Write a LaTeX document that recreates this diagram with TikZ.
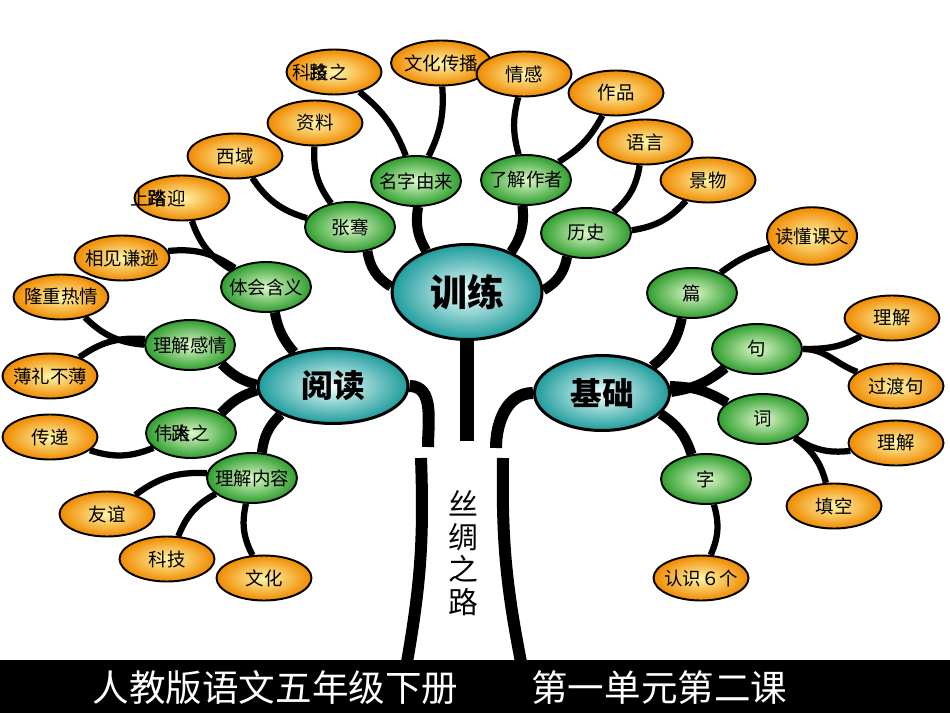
\documentclass[tikz,border=0pt]{standalone}
\usepackage{fontspec}
\setmainfont{Noto Sans CJK SC}
\usetikzlibrary{shapes.geometric,backgrounds}
\definecolor{tealin}{HTML}{F2FFFF}
\definecolor{tealout}{HTML}{1E9C9C}
\definecolor{leafin}{HTML}{DDF8C8}
\definecolor{leafout}{HTML}{2E9E2E}
\definecolor{petalin}{HTML}{FFF6A8}
\definecolor{petalout}{HTML}{F08A00}

\begin{document}
\begin{tikzpicture}[x=0.2mm, y=-0.2mm,
  hub/.style={ellipse, draw, line width=1.7pt, inner color=tealin, outer color=tealout, minimum width=30mm, minimum height=15mm, inner sep=0pt, font=\fontsize{18pt}{20pt}\selectfont\bfseries},
  leaf/.style={ellipse, draw, line width=1.1pt, inner color=leafin, outer color=leafout, minimum width=18mm, minimum height=10mm, inner xsep=-4pt, inner ysep=0pt, font=\fontsize{10.5pt}{12pt}\selectfont},
  petal/.style={ellipse, draw, line width=1.1pt, inner color=petalin, outer color=petalout, minimum width=19mm, minimum height=9mm, inner xsep=-4pt, inner ysep=0pt, font=\fontsize{10.5pt}{12pt}\selectfont},
  overlay/.style={inner sep=0pt, font=\fontsize{10.5pt}{12pt}\selectfont},
  branch/.style={line width=2mm},
  twig/.style={line width=1.25mm}
]
  \useasboundingbox (0,0) rectangle (950,713);

  % hubs
  \node[hub, minimum height=19mm, font=\fontsize{21pt}{23pt}\selectfont\bfseries] (xunlian) at (467,292) {训练};
  \node[hub] (yuedu) at (333,386) {阅读};
  \node[hub, minimum width=27mm] (jichu) at (602,393) {基础};

  % green nodes
  \node[leaf] (mingzi) at (416,181) {名字由来};
  \node[leaf] (liaojie) at (526,180) {了解作者};
  \node[leaf] (zhangqian) at (350,227) {张骞};
  \node[leaf] (lishi) at (586,233) {历史};
  \node[leaf] (tihui) at (266,287) {体会含义};
  \node[leaf] (ganqing) at (190,345) {理解感情};
  \node[leaf] (weida) at (191,433) {};
  \node[leaf] (neirong) at (252,478) {理解内容};
  \node[leaf] (pian) at (692,293) {篇};
  \node[leaf] (ju) at (757,349) {句};
  \node[leaf] (ci) at (763,419) {词};
  \node[leaf] (zi) at (706,479) {字};

  % orange nodes
  \node[petal] (keji) at (334,72) {};
  \node[petal, minimum width=20mm] (wenhua) at (441,63) {文化传播};
  \node[petal] (qinggan) at (524,74) {情感};
  \node[petal] (zuopin) at (616,93) {作品};
  \node[petal] (ziliao) at (315,123) {资料};
  \node[petal] (yuyan) at (645,142) {语言};
  \node[petal] (xiyu) at (235,156) {西域};
  \node[petal] (jingwu) at (708,180) {景物};
  \node[petal] (shanglu) at (182,198) {};
  \node[petal, minimum width=18mm, minimum height=11.5mm] (dudong) at (812,236) {读懂课文};
  \node[petal] (qianxun) at (122,258) {相见谦逊};
  \node[petal] (longzhong) at (61,297) {隆重热情};
  \node[petal] (lijie) at (892,318) {理解};
  \node[petal] (boli) at (50,376) {薄礼不薄};
  \node[petal] (guodu) at (896,386) {过渡句};
  \node[petal] (chuandi) at (50,437) {传递};
  \node[petal] (lijieb) at (896,443) {理解};
  \node[petal] (youyi) at (107,514) {友谊};
  \node[petal] (tiankong) at (834,506) {填空};
  \node[petal] (kejib) at (167,559) {科技};
  \node[petal] (wenhuab) at (264,578) {文化};
  \node[petal] (renshi) at (701,578) {认识６个};

  % overlapping texts
  \node[overlay, anchor=west] (kejit) at (292,72) {科技之};
  \node[overlay] (kejio) at (319,72) {路};
  \node[overlay, anchor=west] (shanglut) at (130,198) {上踏迎};
  \node[overlay] (shangluo) at (157,198) {路};
  \node[overlay, anchor=west] (weidat) at (154,433) {伟大之};
  \node[overlay] (weidao) at (181,433) {路};

  % trunk ends
  \coordinate (lup) at (428,447);
  \coordinate (llo) at (421,458);
  \coordinate (lbot) at (407,662);
  \coordinate (rup) at (496,448);
  \coordinate (rlo) at (503,458);
  \coordinate (rbot) at (521,662);
  \coordinate (mid) at (467,441);

  \node[font=\fontsize{17pt}{18.5pt}\selectfont, align=center] (silu) at (463,553) {丝\\绸\\之\\路};

  % banner
  \fill (0,660) rectangle (950,713);
  \node[text=white, font=\fontsize{20.8pt}{22pt}\selectfont] (title) at (440,688) {人教版语文五年级下册\hspace{2em}第一单元第二课};

  \begin{scope}[on background layer]
    % trunk
    \draw[line width=2.8mm] (xunlian) -- (mid);
    \draw[branch, line width=2.4mm] (yuedu) to[out=0, in=90] (lup);
    \draw[branch, line width=2.4mm] (llo) to[bend left=6] (lbot);
    \draw[branch, line width=2.4mm] (jichu) to[out=180, in=90] (rup);
    \draw[branch, line width=2.4mm] (rlo) to[bend right=6] (rbot);
    % training
    \draw[branch] (xunlian) to[bend left=20] (mingzi);
    \draw[branch] (xunlian) to[bend right=20] (liaojie);
    \draw[branch] (xunlian) to[bend left=25] (zhangqian);
    \draw[branch] (xunlian) to[bend right=25] (lishi);
    \draw[twig] (mingzi) to[bend right=15] (keji);
    \draw[twig] (mingzi) to[bend right=15] (wenhua);
    \draw[twig] (liaojie) to[bend left=15] (qinggan);
    \draw[twig] (liaojie) to[bend right=15] (zuopin);
    \draw[twig] (zhangqian) to[bend left=20] (ziliao);
    \draw[twig] (zhangqian) to[bend left=20] (xiyu);
    \draw[twig] (lishi) to[bend right=20] (yuyan);
    \draw[twig] (lishi) to[bend right=20] (jingwu);
    % reading
    \draw[branch] (yuedu) to[bend left=15] (tihui);
    \draw[branch] (yuedu) to[bend left=15] (ganqing);
    \draw[branch] (yuedu) to[bend right=15] (weida);
    \draw[branch] (yuedu) to[bend right=20] (neirong);
    \draw[twig] (tihui) to[bend left=20] (shanglu);
    \draw[twig] (tihui) to[bend right=20] (qianxun);
    \draw[twig] (ganqing) to[bend left=20] (longzhong);
    \draw[twig] (ganqing) to[bend right=20] (boli);
    \draw[twig] (weida) to[bend left=20] (chuandi);
    \draw[twig] (neirong) to[bend right=20] (youyi);
    \draw[twig] (neirong) to[bend right=20] (kejib);
    \draw[twig] (neirong) to[bend right=20] (wenhuab);
    % basics
    \draw[branch] (jichu) to[bend right=20] (pian);
    \draw[branch] (jichu) to[bend right=15] (ju);
    \draw[branch] (jichu) to[bend left=15] (ci);
    \draw[branch] (jichu) to[bend left=20] (zi);
    \draw[twig] (pian) to[bend left=10] (dudong);
    \draw[twig] (ju) to[out=0, in=210] (lijie);
    \draw[twig] (ju) to[out=0, in=160] (guodu);
    \draw[twig] (ci) to[bend right=20] (lijieb);
    \draw[twig] (ci) to[bend left=20] (tiankong);
    \draw[twig] (zi) to[bend left=20] (renshi);
  \end{scope}
\end{tikzpicture}
\end{document}
